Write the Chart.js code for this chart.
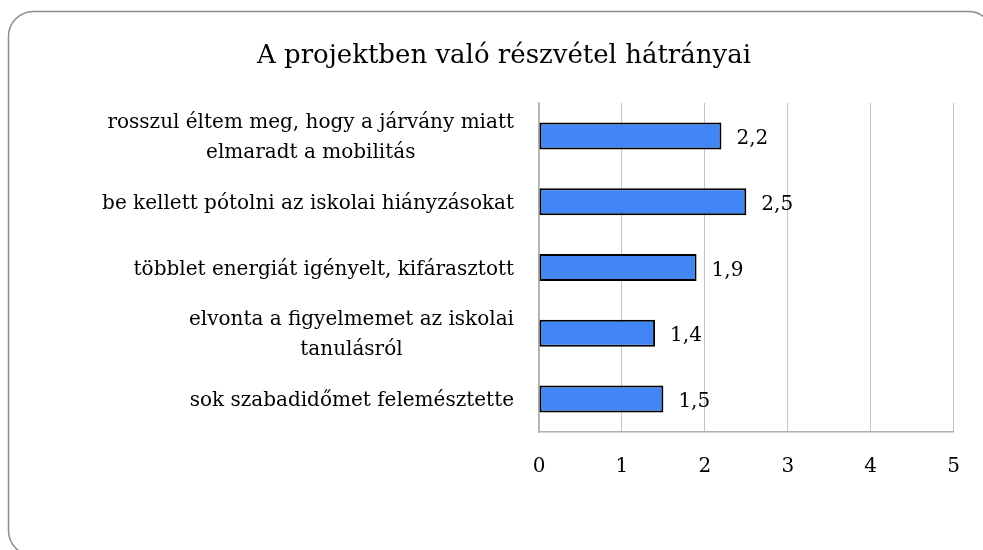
<!DOCTYPE html>
<html>
<head>
<meta charset="utf-8">
<script src="https://cdn.jsdelivr.net/npm/chart.js@4/dist/chart.umd.min.js"></script>
<style>
  html, body { margin: 0; padding: 0; background: #ffffff; }
  #wrap { position: relative; width: 983px; height: 550px; }
</style>
</head>
<body>
<div id="wrap"><canvas id="c" width="983" height="550"></canvas></div>
<script>
// ---- data ----
const chartTitle = "A projektben való részvétel hátrányai";
const categories = [
  ["rosszul éltem meg, hogy a járvány miatt", "elmaradt a mobilitás"],
  ["be kellett pótolni az iskolai hiányzásokat"],
  ["többlet energiát igényelt, kifárasztott"],
  ["elvonta a figyelmemet az iskolai", "tanulásról"],
  ["sok szabadidőmet felemésztette"]
];
const values = [2.2, 2.5, 1.9, 1.4, 1.5];
const xTickLabels = ["0", "1", "2", "3", "4", "5"];

const FONT = "'DejaVu Serif', serif";

const framePlugin = {
  id: 'frame',
  beforeDraw(chart) {
    const ctx = chart.ctx;
    ctx.save();
    ctx.fillStyle = '#ffffff';
    ctx.fillRect(0, 0, chart.width, chart.height);
    ctx.strokeStyle = '#8c8c8c';
    ctx.lineWidth = 1.5;
    ctx.beginPath();
    ctx.roundRect(8.5, 11.5, 985, 544, 25);
    ctx.stroke();
    ctx.restore();
  }
};

const textPlugin = {
  id: 'texts',
  afterDraw(chart) {
    const ctx = chart.ctx;
    ctx.save();
    ctx.fillStyle = '#000000';
    // title
    ctx.font = "26px " + FONT;
    ctx.textAlign = 'center';
    ctx.textBaseline = 'alphabetic';
    ctx.fillText(chartTitle, 504, 63);
    // category labels
    const yScale = chart.scales.y;
    ctx.font = "20px " + FONT;
    const rightEdge = 514;
    const lineH = 30;
    categories.forEach((lines, i) => {
      const cy = yScale.getPixelForTick(i);
      let w = 0;
      lines.forEach(l => { w = Math.max(w, ctx.measureText(l).width); });
      const cx = rightEdge - w / 2;
      const first = cy + 7 - (lines.length - 1) * lineH / 2;
      lines.forEach((l, k) => {
        ctx.textAlign = 'center';
        ctx.fillText(l, cx, first + k * lineH);
      });
    });
    // value labels
    const meta = chart.getDatasetMeta(0);
    ctx.textAlign = 'left';
    meta.data.forEach((bar, i) => {
      const txt = values[i].toFixed(1).replace('.', ',');
      ctx.fillText(txt, bar.x + 15, bar.y + 8);
    });
    ctx.restore();
  }
};

new Chart(document.getElementById('c'), {
  type: 'bar',
  data: {
    labels: categories,
    datasets: [{
      data: values,
      backgroundColor: '#4285f4',
      borderColor: '#000000',
      borderWidth: 2,
      borderSkipped: false,
      barPercentage: 0.41,
      categoryPercentage: 1.0
    }]
  },
  options: {
    indexAxis: 'y',
    responsive: false,
    animation: false,
    layout: { padding: { top: 103, right: 27, left: 0, bottom: 0 } },
    plugins: {
      legend: { display: false },
      title: { display: false },
      tooltip: { enabled: false }
    },
    scales: {
      x: {
        min: 0, max: 5,
        afterFit(s) { s.height = 118; },
        ticks: {
          stepSize: 1,
          padding: 23,
          color: '#000000',
          font: { family: FONT, size: 20 },
          callback: (v, i) => xTickLabels[i]
        },
        grid: { color: '#c4c4c4', lineWidth: 1, drawTicks: false },
        border: { display: true, color: '#b0b0b0', width: 1.5 }
      },
      y: {
        afterFit(s) { s.width = 539; },
        ticks: { display: false },
        grid: { display: false, drawTicks: false },
        border: { display: true, color: '#b0b0b0', width: 1.5 }
      }
    }
  },
  plugins: [framePlugin, textPlugin]
});
</script>
</body>
</html>
